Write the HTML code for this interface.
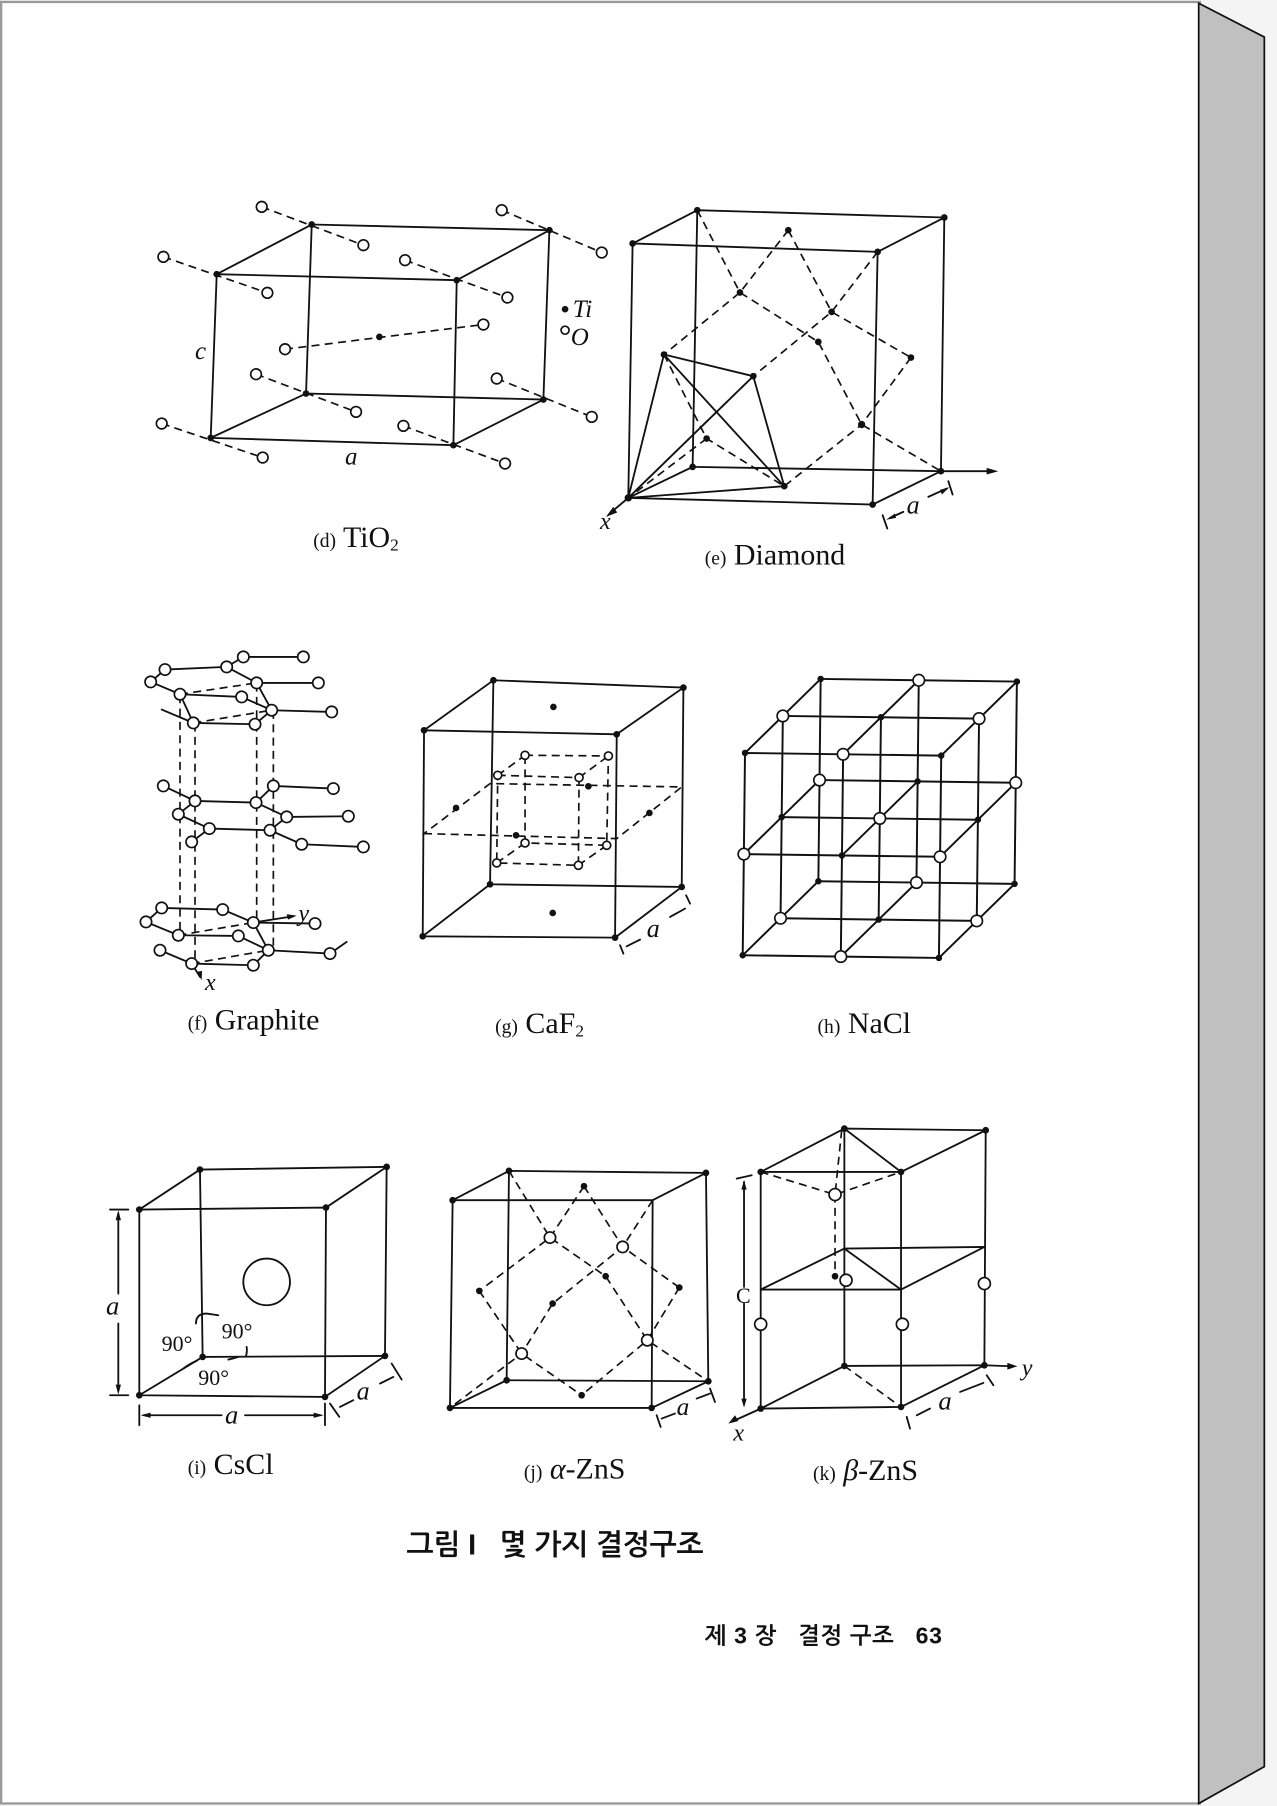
<!DOCTYPE html>
<html><head><meta charset="utf-8"><style>
html,body{margin:0;padding:0;background:#f4f4f4;}
svg{display:block;}
.s{stroke:#111;stroke-width:5.5;fill:none;stroke-linecap:round;}
.d{stroke:#111;stroke-width:5;fill:none;stroke-dasharray:24 16;}
.o{stroke:#111;stroke-width:5;fill:#fff;}
.k{fill:#111;}
.cap{font-family:"Liberation Serif",serif;fill:#111;}
.it{font-family:"Liberation Serif",serif;font-style:italic;fill:#111;}
</style></head><body>
<svg width="1277" height="1806" viewBox="0 0 1109 1568" xmlns="http://www.w3.org/2000/svg">
<rect x="0" y="0" width="1109" height="1568" fill="#f4f4f4"/>
<rect x="1" y="1.5" width="1041" height="1564.5" fill="#fff" stroke="#9a9a9a" stroke-width="2"/>
<polygon points="1041,2.6 1098,32 1098,1534 1041,1566" fill="#c0c0c0" stroke="#111" stroke-width="1.5"/>

<!-- (d) TiO2 -->
<g transform="translate(130.3,169.3) scale(0.2895)">
<polygon class="s" points="200,237 920,255 910,750 182,728"/>
<polyline class="s" points="200,237 485,88 1198,105 920,255"/>
<polyline class="s" points="485,88 468,595 1180,613 1198,105"/>
<line class="s" x1="182" y1="728" x2="468" y2="595"/><line class="s" x1="910" y1="750" x2="1180" y2="613"/>
<g class="d"><line x1="335" y1="35" x2="640" y2="150"/><line x1="1055" y1="45" x2="1355" y2="172"/><line x1="40" y1="185" x2="352" y2="293"/><line x1="765" y1="195" x2="1072" y2="307"/><line x1="405" y1="462" x2="1000" y2="388"/><line x1="318" y1="537" x2="618" y2="650"/><line x1="1040" y1="550" x2="1325" y2="665"/><line x1="35" y1="685" x2="338" y2="787"/><line x1="760" y1="692" x2="1065" y2="805"/></g>
<g class="o"><circle cx="335" cy="35" r="16"/><circle cx="640" cy="150" r="16"/><circle cx="1055" cy="45" r="16"/><circle cx="1355" cy="172" r="16"/><circle cx="40" cy="185" r="16"/><circle cx="352" cy="293" r="16"/><circle cx="765" cy="195" r="16"/><circle cx="1072" cy="307" r="16"/><circle cx="405" cy="462" r="16"/><circle cx="1000" cy="388" r="16"/><circle cx="318" cy="537" r="16"/><circle cx="618" cy="650" r="16"/><circle cx="1040" cy="550" r="16"/><circle cx="1325" cy="665" r="16"/><circle cx="35" cy="685" r="16"/><circle cx="338" cy="787" r="16"/><circle cx="760" cy="692" r="16"/><circle cx="1065" cy="805" r="16"/><circle cx="1245" cy="405" r="12"/></g>
<g class="k"><circle cx="485" cy="88" r="10"/><circle cx="1198" cy="105" r="10"/><circle cx="200" cy="237" r="10"/><circle cx="920" cy="255" r="10"/><circle cx="468" cy="595" r="10"/><circle cx="1180" cy="613" r="10"/><circle cx="182" cy="728" r="10"/><circle cx="910" cy="750" r="10"/><circle cx="688" cy="425" r="10"/><circle cx="1245" cy="342" r="10"/></g>
<text class="it" x="135" y="492" font-size="75">c</text>
<text class="it" x="585" y="808" font-size="75">a</text>
<text class="it" x="1268" y="366" font-size="75">Ti</text>
<text class="it" x="1262" y="450" font-size="75">O</text>
</g>
<text class="cap" x="272" y="475" font-size="26"><tspan font-size="17">(d)</tspan> TiO<tspan font-size="15" dy="3">2</tspan></text>

<!-- (e) Diamond -->
<g transform="translate(529.7,169.3) scale(0.2895)">
<polygon class="s" points="68,145 803,170 788,928 55,908"/>
<polyline class="s" points="68,145 262,45 1003,67 803,170"/>
<polyline class="s" points="262,45 248,815 993,828 1003,67"/>
<line class="s" x1="55" y1="908" x2="248" y2="815"/><line class="s" x1="788" y1="928" x2="993" y2="828"/>
<g class="d">
<polyline points="262,45 390,292 625,440 755,688 993,828"/>
<polyline points="535,105 390,292 162,478"/>
<polyline points="535,105 665,350 903,487"/>
<polyline points="803,170 665,350 430,543 55,908"/>
<polyline points="903,487 755,688 523,873"/>
<polyline points="162,478 290,730 523,873"/>
<line x1="290" y1="730" x2="55" y2="908"/>
</g>
<g class="s"><line x1="55" y1="908" x2="162" y2="478"/><line x1="55" y1="908" x2="430" y2="543"/><line x1="55" y1="908" x2="523" y2="873"/><line x1="162" y1="478" x2="430" y2="543"/><line x1="162" y1="478" x2="523" y2="873"/><line x1="430" y1="543" x2="523" y2="873"/>
<line x1="993" y1="828" x2="1140" y2="828"/><line x1="55" y1="908" x2="5" y2="950"/>
<line x1="818" y1="960" x2="832" y2="1000"/><line x1="1015" y1="858" x2="1028" y2="898"/><line x1="840" y1="968" x2="880" y2="950"/><line x1="955" y1="905" x2="1010" y2="880"/></g>
<polygon class="k" points="1165,828 1130,818 1130,838"/>
<polygon class="k" points="-12,965 10,935 22,952"/>
<polygon class="k" points="828,974 855,955 858,968"/><polygon class="k" points="1018,876 990,884 996,898"/>
<g class="k"><circle cx="262" cy="45" r="10"/><circle cx="1003" cy="67" r="10"/><circle cx="68" cy="145" r="10"/><circle cx="803" cy="170" r="10"/><circle cx="248" cy="815" r="10"/><circle cx="993" cy="828" r="10"/><circle cx="55" cy="908" r="11"/><circle cx="788" cy="928" r="10"/><circle cx="535" cy="105" r="10"/><circle cx="390" cy="292" r="10"/><circle cx="665" cy="350" r="10"/><circle cx="625" cy="440" r="10"/><circle cx="903" cy="487" r="10"/><circle cx="430" cy="543" r="10"/><circle cx="162" cy="478" r="10"/><circle cx="290" cy="730" r="10"/><circle cx="755" cy="688" r="11"/><circle cx="523" cy="873" r="10"/></g>
<text class="it" x="-30" y="1002" font-size="72">x</text>
<text class="it" x="890" y="955" font-size="78">a</text>
</g>
<text class="cap" x="612" y="490" font-size="26"><tspan font-size="17">(e)</tspan> Diamond</text>

<!-- (f) Graphite -->
<g transform="translate(112.9,555.8) scale(0.2895)">
<g class="d"><line x1="150" y1="165" x2="150" y2="880"/><line x1="195" y1="250" x2="195" y2="970"/><line x1="380" y1="130" x2="380" y2="850"/><line x1="430" y1="212" x2="430" y2="930"/>
<line x1="150" y1="162" x2="380" y2="128"/><line x1="190" y1="248" x2="425" y2="210"/><line x1="145" y1="885" x2="370" y2="847"/><line x1="185" y1="970" x2="415" y2="930"/></g>
<g class="s">
<polyline points="105,88 290,80 340,50 520,50"/><polyline points="105,88 62,125 150,162 335,170 425,210 605,215"/><polyline points="290,80 380,128 565,128"/><line x1="380" y1="128" x2="425" y2="210"/><polyline points="95,208 190,248 375,252 425,210"/><line x1="150" y1="162" x2="190" y2="248"/>
<polyline points="100,437 195,482 378,487 430,437 610,445"/><polyline points="195,482 145,522 238,565 420,570 470,530 378,487"/><line x1="470" y1="530" x2="655" y2="528"/><polyline points="420,570 515,612 700,620"/><line x1="238" y1="565" x2="185" y2="605"/>
<polyline points="95,803 278,808 370,847 555,850"/><polyline points="95,803 48,845 145,885 325,887 415,930 600,940 650,905"/><line x1="370" y1="847" x2="415" y2="930"/><polyline points="90,930 185,970 370,975 415,930"/>
<line x1="370" y1="847" x2="490" y2="828"/><line x1="185" y1="970" x2="210" y2="1010"/>
</g>
<polygon class="k" points="500,826 470,822 474,838"/><polygon class="k" points="215,1020 200,995 216,992"/>
<g class="o"><circle cx="340" cy="50" r="17"/><circle cx="520" cy="50" r="17"/><circle cx="105" cy="88" r="17"/><circle cx="290" cy="80" r="17"/><circle cx="62" cy="125" r="17"/><circle cx="380" cy="128" r="17"/><circle cx="565" cy="128" r="17"/><circle cx="150" cy="162" r="17"/><circle cx="335" cy="170" r="17"/><circle cx="425" cy="210" r="17"/><circle cx="605" cy="215" r="17"/><circle cx="190" cy="248" r="17"/><circle cx="375" cy="252" r="17"/>
<circle cx="100" cy="437" r="17"/><circle cx="430" cy="437" r="17"/><circle cx="610" cy="445" r="17"/><circle cx="195" cy="482" r="17"/><circle cx="378" cy="487" r="17"/><circle cx="145" cy="522" r="17"/><circle cx="470" cy="530" r="17"/><circle cx="655" cy="528" r="17"/><circle cx="238" cy="565" r="17"/><circle cx="420" cy="570" r="17"/><circle cx="185" cy="605" r="17"/><circle cx="515" cy="612" r="17"/><circle cx="700" cy="620" r="17"/>
<circle cx="95" cy="803" r="17"/><circle cx="278" cy="808" r="17"/><circle cx="48" cy="845" r="17"/><circle cx="370" cy="847" r="17"/><circle cx="555" cy="850" r="17"/><circle cx="145" cy="885" r="17"/><circle cx="325" cy="887" r="17"/><circle cx="415" cy="930" r="17"/><circle cx="600" cy="940" r="17"/><circle cx="90" cy="930" r="17"/><circle cx="185" cy="970" r="17"/><circle cx="370" cy="975" r="17"/></g>
<text class="it" x="505" y="842" font-size="72">y</text>
<text class="it" x="225" y="1050" font-size="72">x</text>
</g>
<text class="cap" x="163" y="894" font-size="26"><tspan font-size="17">(f)</tspan> Graphite</text>

<!-- (g) CaF2 -->
<g transform="translate(356.1,573.2) scale(0.2895)">
<polygon class="s" points="42,210 620,222 615,832 38,828"/>
<polyline class="s" points="42,210 250,60 820,82 620,222"/>
<polyline class="s" points="250,60 240,672 815,680 820,82"/>
<line class="s" x1="38" y1="828" x2="240" y2="672"/><line class="s" x1="615" y1="832" x2="815" y2="680"/>
<g class="d"><polygon points="42,520 620,535 815,380 240,370"/>
<polygon points="263,345 507,352 505,615 260,608"/><polygon points="345,285 595,287 590,555 345,548"/>
<line x1="263" y1="345" x2="345" y2="285"/><line x1="507" y1="352" x2="595" y2="287"/><line x1="260" y1="608" x2="345" y2="548"/><line x1="505" y1="615" x2="590" y2="555"/></g>
<g class="s"><line x1="630" y1="855" x2="640" y2="880"/><line x1="828" y1="705" x2="840" y2="730"/><line x1="650" y1="858" x2="690" y2="838"/><line x1="780" y1="770" x2="825" y2="745"/></g>
<g class="o"><circle cx="345" cy="285" r="12"/><circle cx="595" cy="287" r="12"/><circle cx="263" cy="345" r="12"/><circle cx="507" cy="352" r="12"/><circle cx="345" cy="548" r="12"/><circle cx="590" cy="555" r="12"/><circle cx="260" cy="608" r="12"/><circle cx="505" cy="615" r="12"/></g>
<g class="k"><circle cx="250" cy="60" r="10"/><circle cx="820" cy="82" r="10"/><circle cx="42" cy="210" r="10"/><circle cx="620" cy="222" r="10"/><circle cx="240" cy="672" r="10"/><circle cx="815" cy="680" r="10"/><circle cx="38" cy="828" r="10"/><circle cx="615" cy="832" r="10"/><circle cx="430" cy="140" r="10"/><circle cx="428" cy="758" r="10"/><circle cx="138" cy="443" r="10"/><circle cx="718" cy="458" r="10"/><circle cx="535" cy="378" r="10"/><circle cx="318" cy="525" r="10"/></g>
<text class="it" x="710" y="830" font-size="78">a</text>
</g>
<text class="cap" x="430" y="897" font-size="26"><tspan font-size="17">(g)</tspan> CaF<tspan font-size="15" dy="3">2</tspan></text>

<!-- (h) NaCl -->
<g id="nacl"></g>
<text class="cap" x="710" y="897" font-size="26"><tspan font-size="17">(h)</tspan> NaCl</text>

<!-- (i) CsCl -->
<g transform="translate(95.5,998.7) scale(0.2895)">
<polygon class="s" points="88,178 648,172 645,740 88,735"/>
<polyline class="s" points="88,178 270,58 830,50 648,172"/>
<polyline class="s" points="270,58 278,620 825,617 830,50"/>
<line class="s" x1="88" y1="735" x2="278" y2="620"/><line class="s" x1="645" y1="740" x2="825" y2="617"/>
<circle class="s" cx="470" cy="395" r="70"/>
<g class="s"><line x1="0" y1="178" x2="55" y2="178"/><line x1="0" y1="735" x2="55" y2="735"/><line x1="25" y1="190" x2="25" y2="430"/><line x1="25" y1="520" x2="25" y2="722"/>
<line x1="88" y1="765" x2="88" y2="825"/><line x1="645" y1="760" x2="645" y2="825"/><line x1="100" y1="795" x2="335" y2="795"/><line x1="405" y1="795" x2="632" y2="795"/>
<line x1="660" y1="760" x2="688" y2="800"/><line x1="845" y1="640" x2="875" y2="688"/><line x1="690" y1="770" x2="730" y2="750"/><line x1="810" y1="700" x2="850" y2="680"/>
<path d="M258,520 Q258,490 290,490 L325,495"/><path d="M410,590 Q412,605 408,618"/><path d="M220,655 Q240,640 260,632"/><path d="M355,628 Q370,625 385,620"/></g>
<polygon class="k" points="25,180 17,210 33,210"/><polygon class="k" points="25,733 17,703 33,703"/>
<polygon class="k" points="92,795 122,787 122,803"/><polygon class="k" points="641,795 611,787 611,803"/>
<g class="k"><circle cx="270" cy="58" r="10"/><circle cx="830" cy="50" r="10"/><circle cx="88" cy="178" r="10"/><circle cx="648" cy="172" r="10"/><circle cx="278" cy="620" r="10"/><circle cx="825" cy="617" r="10"/><circle cx="88" cy="735" r="10"/><circle cx="645" cy="740" r="10"/></g>
<text class="it" x="-12" y="493" font-size="80">a</text>
<text class="it" x="345" y="820" font-size="80">a</text>
<text class="it" x="740" y="748" font-size="78">a</text>
<text class="cap" x="155" y="603" font-size="66">90°</text>
<text class="cap" x="335" y="565" font-size="66">90°</text>
<text class="cap" x="265" y="705" font-size="66">90°</text>
</g>
<text class="cap" x="163" y="1280" font-size="26"><tspan font-size="17">(i)</tspan> CsCl</text>

<!-- (j) alpha-ZnS -->
<g transform="translate(373.4,998.7) scale(0.2895)">
<polygon class="s" points="68,150 668,150 665,773 60,773"/>
<polyline class="s" points="68,150 237,62 828,68 668,150"/>
<polyline class="s" points="237,62 230,690 835,693 828,68"/>
<line class="s" x1="60" y1="773" x2="230" y2="690"/><line class="s" x1="665" y1="773" x2="835" y2="693"/>
<g class="d"><polyline points="237,62 360,262 527,378 652,570 835,693"/><polyline points="462,108 360,262 148,422"/><polyline points="462,108 578,290 748,412"/><polyline points="668,150 578,290 368,460 275,610 60,773"/><polyline points="148,422 275,610 455,735"/><polyline points="748,412 652,570 455,735"/></g>
<g class="s"><line x1="680" y1="795" x2="692" y2="830"/><line x1="840" y1="715" x2="855" y2="755"/><line x1="695" y1="805" x2="735" y2="790"/><line x1="800" y1="745" x2="840" y2="730"/></g>
<g class="o"><circle cx="360" cy="262" r="17"/><circle cx="578" cy="290" r="17"/><circle cx="275" cy="610" r="17"/><circle cx="652" cy="570" r="17"/></g>
<g class="k"><circle cx="237" cy="62" r="10"/><circle cx="828" cy="68" r="10"/><circle cx="68" cy="150" r="10"/><circle cx="230" cy="690" r="10"/><circle cx="835" cy="693" r="10"/><circle cx="60" cy="773" r="10"/><circle cx="665" cy="773" r="10"/><circle cx="462" cy="108" r="10"/><circle cx="527" cy="378" r="10"/><circle cx="148" cy="422" r="10"/><circle cx="748" cy="412" r="10"/><circle cx="368" cy="460" r="10"/><circle cx="455" cy="735" r="10"/></g>
<text class="it" x="740" y="795" font-size="76">a</text>
</g>
<text class="cap" x="455" y="1284" font-size="26"><tspan font-size="17">(j)</tspan> <tspan class="it">α</tspan>-ZnS</text>

<!-- (k) beta-ZnS -->
<g transform="translate(625.3,955.3) scale(0.2895)">
<g class="s">
<polygon points="122,215 373,85 797,90 543,215"/><line x1="373" y1="85" x2="543" y2="215"/>
<polygon points="122,568 373,445 793,440 543,568"/><line x1="373" y1="445" x2="543" y2="568"/>
<polyline points="543,920 122,925 373,797 793,795 543,920"/>
<line x1="122" y1="215" x2="122" y2="925"/><line x1="543" y1="215" x2="543" y2="920"/><line x1="797" y1="90" x2="793" y2="795"/><line x1="373" y1="85" x2="373" y2="797"/>
<line x1="793" y1="795" x2="870" y2="798"/><line x1="122" y1="925" x2="45" y2="960"/>
<line x1="72" y1="245" x2="72" y2="560"/><line x1="72" y1="610" x2="72" y2="910"/><line x1="50" y1="235" x2="95" y2="225"/>
<line x1="560" y1="950" x2="570" y2="985"/><line x1="800" y1="825" x2="820" y2="855"/><line x1="590" y1="945" x2="630" y2="925"/><line x1="720" y1="875" x2="790" y2="848"/>
</g>
<g class="d"><polyline points="122,215 345,283 543,215"/><line x1="365" y1="90" x2="345" y2="283"/><line x1="345" y1="283" x2="345" y2="528"/><line x1="373" y1="797" x2="543" y2="920"/></g>
<polygon class="k" points="892,798 862,788 862,808"/><polygon class="k" points="25,970 45,945 55,962"/>
<polygon class="k" points="72,240 64,268 80,268"/><polygon class="k" points="72,922 64,895 80,895"/>
<g class="o"><circle cx="345" cy="283" r="18"/><circle cx="378" cy="540" r="18"/><circle cx="793" cy="550" r="18"/><circle cx="122" cy="672" r="18"/><circle cx="547" cy="672" r="18"/></g>
<g class="k"><circle cx="373" cy="85" r="10"/><circle cx="797" cy="90" r="10"/><circle cx="122" cy="215" r="10"/><circle cx="543" cy="215" r="10"/><circle cx="345" cy="528" r="10"/><circle cx="373" cy="797" r="10"/><circle cx="793" cy="795" r="10"/><circle cx="122" cy="925" r="10"/><circle cx="543" cy="920" r="10"/></g>
<text class="cap" x="48" y="608" font-size="66">C</text>
<text class="it" x="905" y="825" font-size="72">y</text>
<text class="it" x="40" y="1020" font-size="72">x</text>
<text class="it" x="655" y="928" font-size="80">a</text>
</g>
<text class="cap" x="706" y="1285" font-size="26"><tspan font-size="17">(k)</tspan> <tspan class="it">β</tspan>-ZnS</text>

<text x="353" y="1350" font-size="25" textLength="258" lengthAdjust="spacing" font-weight="bold" font-family="'Liberation Sans','NanumGothic','Noto Sans CJK KR',sans-serif" fill="#111" style="white-space:pre">그림 I   몇 가지 결정구조</text>
<text x="612" y="1427" font-size="20" textLength="206" lengthAdjust="spacing" font-weight="bold" font-family="'Liberation Sans','NanumGothic','Noto Sans CJK KR',sans-serif" fill="#111" style="white-space:pre">제 3 장   결정 구조   63</text>
</svg>
<script>
(function(){
var g=document.getElementById('nacl'),ns='http://www.w3.org/2000/svg';
var O=[645,829.4],ex=[85.2,1.15],ey=[1,-87.85],ez=[32.85,-32.15];
function P(i,j,k){return [O[0]+i*ex[0]+j*ey[0]+k*ez[0],O[1]+i*ex[1]+j*ey[1]+k*ez[1]];}
function L(a,b){var l=document.createElementNS(ns,'line');l.setAttribute('x1',a[0]);l.setAttribute('y1',a[1]);l.setAttribute('x2',b[0]);l.setAttribute('y2',b[1]);l.setAttribute('stroke','#111');l.setAttribute('stroke-width','1.7');g.appendChild(l);}
var a,b;
for(a=0;a<3;a++)for(b=0;b<3;b++){L(P(0,a,b),P(2,a,b));L(P(a,0,b),P(a,2,b));L(P(a,b,0),P(a,b,2));}
for(var i=0;i<3;i++)for(var j=0;j<3;j++)for(var k=0;k<3;k++){var p=P(i,j,k),c=document.createElementNS(ns,'circle');c.setAttribute('cx',p[0]);c.setAttribute('cy',p[1]);
if((i+j+k)%2==0){c.setAttribute('r','2.8');c.setAttribute('fill','#111');}else{c.setAttribute('r','5');c.setAttribute('fill','#fff');c.setAttribute('stroke','#111');c.setAttribute('stroke-width','1.4');}
g.appendChild(c);}
})();
</script>
</body></html>
